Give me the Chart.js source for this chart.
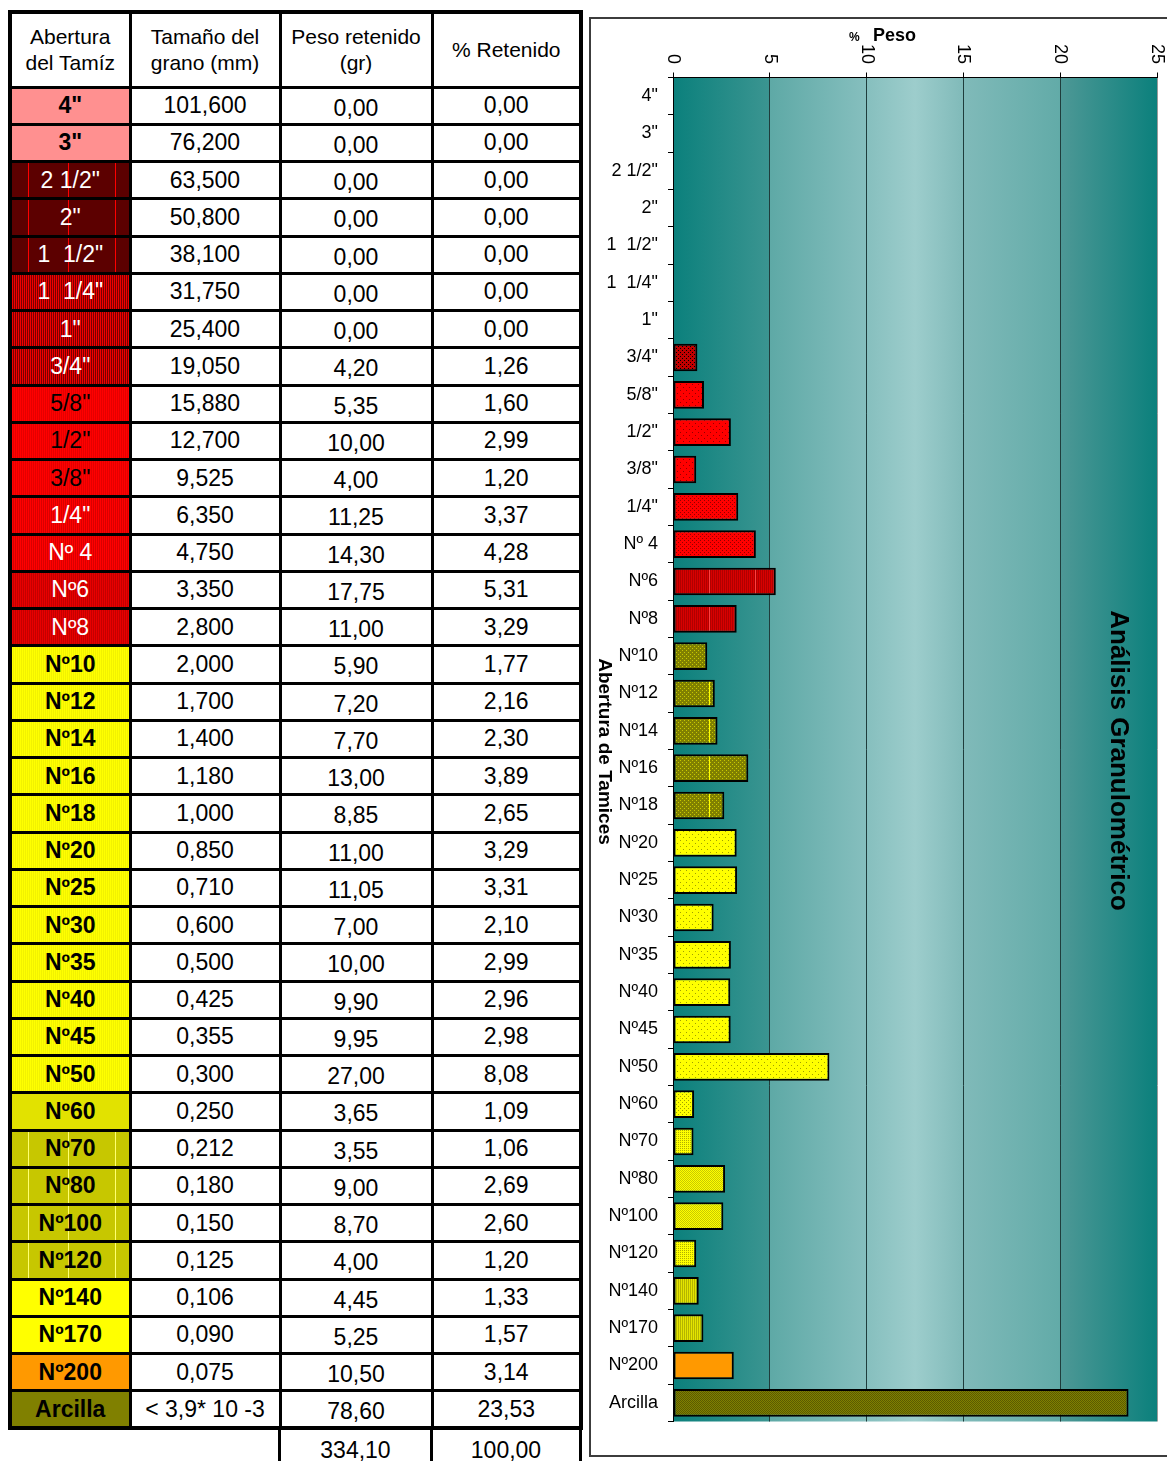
<!DOCTYPE html>
<html lang="es">
<head>
<meta charset="utf-8">
<title>Análisis Granulométrico</title>
<script src="https://cdn.jsdelivr.net/npm/chart.js@4.4.0/dist/chart.umd.min.js"></script>
<style>
  html, body { margin: 0; padding: 0; background: #fff; overflow: hidden; }
  body { width: 1167px; height: 1461px; position: relative; font-family: Arial, "Liberation Sans", sans-serif; }

  #tabla { position: absolute; left: 8px; top: 10px; border-collapse: collapse; table-layout: fixed; border: 4px solid #000; }
  #tabla td, #tabla th { border: 3px solid #000; padding: 0; text-align: center; vertical-align: middle;
    font-size: 23px; font-weight: normal; white-space: pre; color: #000; overflow: hidden; background: #fff; }
  #tabla th { font-size: 21px; line-height: 26px; }
  #tabla tr.cab { height: 75px; }
  #tabla tr.fila { height: 37.26px; }
  #tabla td.peso { padding-top: 5px; }

  #totales { position: absolute; left: 278px; top: 1427px; border-collapse: collapse; table-layout: fixed; }
  #totales td { border-left: 3px solid #000; border-right: 3px solid #000; height: 38px; padding: 0;
    text-align: center; font-size: 23px; padding-top: 4px; }

  /* colores de la columna de tamices */
  .rosa    { background: repeating-conic-gradient(#ff4c4c 0 25%, #ffd4d4 0 50%) 0 0/2px 2px !important; font-weight: bold !important; }
  .osc     { background: linear-gradient(90deg, transparent 16px, #ff0000 16px 17px, transparent 17px 56px, #ff0000 56px 57px, transparent 57px 103px, #ff0000 103px 104px, transparent 104px),
               repeating-conic-gradient(#000 0 25%, #b80000 0 50%) 0 0/2px 2px !important; color: #fff !important; }
  .rojoNeg { background: repeating-conic-gradient(#000 0 25%, #f00000 0 100%) 0 0/2px 2px !important; color: #fff !important; }
  .rojo    { background: repeating-conic-gradient(#c80000 0 25%, #ff0000 0 100%) 0 0/2px 2px !important; }
  .rojo2   { background: repeating-conic-gradient(#b00000 0 25%, #ff0000 0 100%) 0 0/2px 2px !important; color: #fff !important; }
  .rojo3   { background: repeating-conic-gradient(#a00000 0 25%, #e80000 0 100%) 0 0/2px 2px !important; color: #fff !important; }
  .ama     { background: repeating-conic-gradient(#e4e400 0 25%, #ffff00 0 100%) 0 0/2px 2px !important; font-weight: bold !important; }
  .ama2    { background: repeating-conic-gradient(#c4c400 0 25%, #ffff00 0 50%) 0 0/2px 2px !important; font-weight: bold !important; }
  .oliva   { background: linear-gradient(90deg, transparent 16px, #ffff70 16px 17px, transparent 17px 56px, #ffff70 56px 57px, transparent 57px 103px, #ffff70 103px 104px, transparent 104px),
               repeating-conic-gradient(#a8a800 0 25%, #e6e600 0 50%) 0 0/2px 2px !important; font-weight: bold !important; }
  .amaLiso { background: #ffff00 !important; font-weight: bold !important; }
  .naranja { background: #ff9900 !important; font-weight: bold !important; }
  .arcilla { background: #808000 !important; font-weight: bold !important; }

  #marco { position: absolute; left: 589px; top: 17px; width: 640px; height: 1436px; border: 2px solid #3c3c3c; }
  #grafico { position: absolute; left: 590px; top: 18px; }
</style>
</head>
<body>
<table id="tabla"></table>
<table id="totales"><colgroup><col style="width:152px"><col style="width:149px"></colgroup><tr><td id="totPeso"></td><td id="totPct"></td></tr></table>
<div id="marco"></div>
<canvas id="grafico" width="577" height="1436"></canvas>

<script>
// ---------- datos ----------
const tamices = ['4"', '3"', '2 1/2"', '2"', '1  1/2"', '1  1/4"', '1"', '3/4"', '5/8"', '1/2"', '3/8"', '1/4"',
  'Nº 4', 'Nº6', 'Nº8', 'Nº10', 'Nº12', 'Nº14', 'Nº16', 'Nº18', 'Nº20', 'Nº25', 'Nº30', 'Nº35', 'Nº40', 'Nº45',
  'Nº50', 'Nº60', 'Nº70', 'Nº80', 'Nº100', 'Nº120', 'Nº140', 'Nº170', 'Nº200', 'Arcilla'];

const tamanoGrano = ['101,600', '76,200', '63,500', '50,800', '38,100', '31,750', '25,400', '19,050', '15,880',
  '12,700', '9,525', '6,350', '4,750', '3,350', '2,800', '2,000', '1,700', '1,400', '1,180', '1,000', '0,850',
  '0,710', '0,600', '0,500', '0,425', '0,355', '0,300', '0,250', '0,212', '0,180', '0,150', '0,125', '0,106',
  '0,090', '0,075', '< 3,9* 10 -3'];

const pesoRetenido = [0, 0, 0, 0, 0, 0, 0, 4.20, 5.35, 10.00, 4.00, 11.25, 14.30, 17.75, 11.00, 5.90, 7.20, 7.70,
  13.00, 8.85, 11.00, 11.05, 7.00, 10.00, 9.90, 9.95, 27.00, 3.65, 3.55, 9.00, 8.70, 4.00, 4.45, 5.25, 10.50, 78.60];

const pctRetenido = [0, 0, 0, 0, 0, 0, 0, 1.26, 1.60, 2.99, 1.20, 3.37, 4.28, 5.31, 3.29, 1.77, 2.16, 2.30, 3.89,
  2.65, 3.29, 3.31, 2.10, 2.99, 2.96, 2.98, 8.08, 1.09, 1.06, 2.69, 2.60, 1.20, 1.33, 1.57, 3.14, 23.53];

const totales = ['334,10', '100,00'];
const xTicks = [0, 5, 10, 15, 20, 25];

const encabezados = ['Abertura\ndel Tamíz', 'Tamaño del\ngrano (mm)', 'Peso retenido\n(gr)', '% Retenido'];

// grupo de color de cada tamiz (celda de la tabla y barra)
const grupo = ['rosa', 'rosa', 'osc', 'osc', 'osc', 'rojoNeg', 'rojoNeg', 'rojoNeg', 'rojo', 'rojo', 'rojo',
  'rojo2', 'rojo2', 'rojo3', 'rojo3', 'ama', 'ama', 'ama', 'ama', 'ama', 'ama', 'ama', 'ama', 'ama', 'ama', 'ama',
  'ama', 'ama2', 'oliva', 'oliva', 'oliva', 'oliva', 'amaLiso', 'amaLiso', 'naranja', 'arcilla'];

const grupoBarra = ['-', '-', '-', '-', '-', '-', '-', 'rojoNeg', 'rojo', 'rojo', 'rojo', 'rojo2', 'rojo2', 'rojo3',
  'rojo3', 'olivaPto', 'olivaPto', 'olivaPto', 'olivaPto', 'olivaPto', 'ama', 'ama', 'ama', 'ama', 'ama', 'ama',
  'ama', 'ama2', 'ama3', 'ama4', 'ama4', 'ama3', 'ama5', 'ama5', 'naranja', 'arcilla'];

const FUENTE = 'Arial, "Liberation Sans", sans-serif';
const fmt = v => v.toFixed(2).replace('.', ',');

// ---------- tabla ----------
const tabla = document.getElementById('tabla');
const cg = document.createElement('colgroup');
[120, 150, 152, 149].forEach(w => {
  const col = document.createElement('col');
  col.style.width = w + 'px';
  cg.appendChild(col);
});
tabla.appendChild(cg);

const trCab = document.createElement('tr');
trCab.className = 'cab';
encabezados.forEach(t => {
  const th = document.createElement('th');
  th.textContent = t;
  trCab.appendChild(th);
});
tabla.appendChild(trCab);

tamices.forEach((t, i) => {
  const tr = document.createElement('tr');
  tr.className = 'fila';
  const celdas = [t, tamanoGrano[i], fmt(pesoRetenido[i]), fmt(pctRetenido[i])];
  celdas.forEach((txt, j) => {
    const td = document.createElement('td');
    td.textContent = txt;
    if (j === 0) td.className = grupo[i];
    if (j === 2) td.className = 'peso';
    tr.appendChild(td);
  });
  tabla.appendChild(tr);
});

document.getElementById('totPeso').textContent = totales[0];
document.getElementById('totPct').textContent = totales[1];

// ---------- rellenos de las barras ----------
const ctx = document.getElementById('grafico').getContext('2d');

function tile(w, h, paint) {
  const c = document.createElement('canvas');
  c.width = w; c.height = h;
  paint(c.getContext('2d'));
  return ctx.createPattern(c, 'repeat');
}
function puntos(fondo, punto, p) {
  return tile(p, p, g => {
    g.fillStyle = fondo; g.fillRect(0, 0, p, p);
    g.fillStyle = punto; g.fillRect(0, 0, 1, 1); g.fillRect(p / 2, p / 2, 1, 1);
  });
}
function damero(a, b) {
  return tile(2, 2, g => {
    g.fillStyle = a; g.fillRect(0, 0, 2, 2);
    g.fillStyle = b; g.fillRect(0, 0, 1, 1); g.fillRect(1, 1, 1, 1);
  });
}
// un punto oscuro por cada 2x2
function cuarto(a, b) {
  return tile(2, 2, g => {
    g.fillStyle = a; g.fillRect(0, 0, 2, 2);
    g.fillStyle = b; g.fillRect(0, 0, 1, 1);
  });
}
// rayas verticales finas y una línea clara cada 46 px
function rayado(fondo, raya, linea) {
  return tile(92, 2, g => {
    g.fillStyle = fondo; g.fillRect(0, 0, 92, 2);
    g.fillStyle = raya;
    for (let x = 0; x < 92; x += 2) g.fillRect(x, 0, 1, 2);
    if (linea) { g.fillStyle = linea; g.fillRect(27, 0, 1, 2); g.fillRect(73, 0, 1, 2); }
  });
}
function puntosLinea(fondo, punto, linea) {
  return tile(92, 4, g => {
    g.fillStyle = fondo; g.fillRect(0, 0, 92, 4);
    g.fillStyle = punto;
    for (let x = 0; x < 92; x += 4) { g.fillRect(x, 0, 1, 1); g.fillRect(x + 2, 2, 1, 1); }
    g.fillStyle = linea; g.fillRect(27, 0, 1, 4); g.fillRect(73, 0, 1, 4);
  });
}

const rellenos = {
  '-': '#ffffff',
  rojoNeg: puntos('#c00000', '#000000', 4),
  rojo: puntos('#ff0000', '#900000', 6),
  rojo2: puntos('#ff0000', '#900000', 4),
  rojo3: rayado('#d80000', '#b00000', '#ff4040'),
  olivaPto: puntosLinea('#808000', '#c8c800', '#ffff00'),
  ama: puntos('#ffff00', '#a0a000', 6),
  ama2: puntos('#ffff00', '#a0a000', 4),
  ama3: cuarto('#ffff00', '#b0b000'),
  ama4: damero('#ffff00', '#c8c800'),
  ama5: rayado('#e4e400', '#b4b400', null),
  naranja: '#ff9900',
  arcilla: damero('#808000', '#5a5a00')
};

// ---------- plugins ----------
const fondoDegradado = {
  id: 'fondoDegradado',
  beforeDraw(chart) {
    const { ctx: c, chartArea: a } = chart;
    const g = c.createLinearGradient(a.left, 0, a.right, 0);
    g.addColorStop(0, '#0b807c');
    g.addColorStop(0.199, '#3b9591');
    g.addColorStop(0.2, '#5ea9a6');
    g.addColorStop(0.4, '#86bfbe');
    g.addColorStop(0.5, '#9dcdcc');
    g.addColorStop(0.6, '#80bab9');
    g.addColorStop(0.799, '#62aba8');
    g.addColorStop(0.8, '#4e9896');
    g.addColorStop(1, '#0b807c');
    c.save();
    c.fillStyle = g;
    c.fillRect(a.left, a.top, a.width, a.height);
    c.restore();
  }
};

const textos = {
  id: 'textos',
  afterDraw(chart) {
    const { ctx: c, chartArea: a } = chart;
    const x = chart.scales.x;
    const midY = (a.top + a.bottom) / 2;
    c.save();
    c.fillStyle = '#000';

    // marcas del eje superior, giradas
    c.font = '18px ' + FUENTE;
    c.textAlign = 'right';
    c.textBaseline = 'middle';
    xTicks.forEach(v => {
      c.save();
      c.translate(x.getPixelForValue(v), a.top - 13.5);
      c.rotate(Math.PI / 2);
      c.fillText(String(v), 0, 0);
      c.restore();
    });

    // título del eje de valores
    const cx = (a.left + a.right) / 2;
    c.textBaseline = 'alphabetic';
    c.font = 'bold 18px ' + FUENTE;
    c.textAlign = 'right';
    c.fillText('Peso', cx + 1, a.top - 36.5);
    c.font = 'bold 12px ' + FUENTE;
    c.textAlign = 'left';
    c.fillText('%', cx - 66, a.top - 36.5);

    // título del eje de tamices
    c.save();
    c.font = 'bold 19px ' + FUENTE;
    c.textAlign = 'center';
    c.textBaseline = 'middle';
    c.translate(a.left - 69, midY + 2);
    c.rotate(Math.PI / 2);
    c.fillText('Abertura de Tamices', 0, 0);
    c.restore();

    // título del gráfico
    c.save();
    c.font = 'bold 26px ' + FUENTE;
    c.textAlign = 'center';
    c.textBaseline = 'middle';
    c.translate(a.right - 39, midY + 11);
    c.rotate(Math.PI / 2);
    c.fillText('Análisis Granulométrico', 0, 0);
    c.restore();

    c.restore();
  }
};

// ---------- gráfico ----------
new Chart(ctx, {
  type: 'bar',
  data: {
    labels: tamices,
    datasets: [{
      data: pctRetenido,
      backgroundColor: grupoBarra.map(k => rellenos[k]),
      borderColor: '#000',
      borderWidth: 2,
      borderSkipped: false,
      barPercentage: 0.74,
      categoryPercentage: 1
    }]
  },
  options: {
    indexAxis: 'y',
    responsive: false,
    animation: false,
    events: [],
    layout: { padding: { left: 0, top: 0, right: 10, bottom: 32.5 } },
    plugins: {
      legend: { display: false },
      tooltip: { enabled: false },
      title: { display: false }
    },
    scales: {
      x: {
        position: 'top',
        min: 0,
        max: 25,
        ticks: { stepSize: 5, display: false },
        grid: {
          color: c => (c.tick && c.tick.value === 25 ? '#9a9a9a' : '#1f3d3c'),
          tickColor: '#000',
          lineWidth: 1,
          tickLength: 5
        },
        border: { color: '#000', width: 1 },
        afterFit(s) { s.height = 59.5; s.paddingLeft = 0; s.paddingRight = 0; }
      },
      y: {
        ticks: { font: { size: 18, family: FUENTE }, color: '#000', padding: 10, autoSkip: false },
        grid: { drawOnChartArea: false, tickLength: 5, color: '#000', offset: true },
        border: { color: '#000', width: 1 },
        afterFit(s) { s.width = 83; s.paddingTop = 0; s.paddingBottom = 0; }
      }
    }
  },
  plugins: [fondoDegradado, textos]
});
</script>
</body>
</html>
